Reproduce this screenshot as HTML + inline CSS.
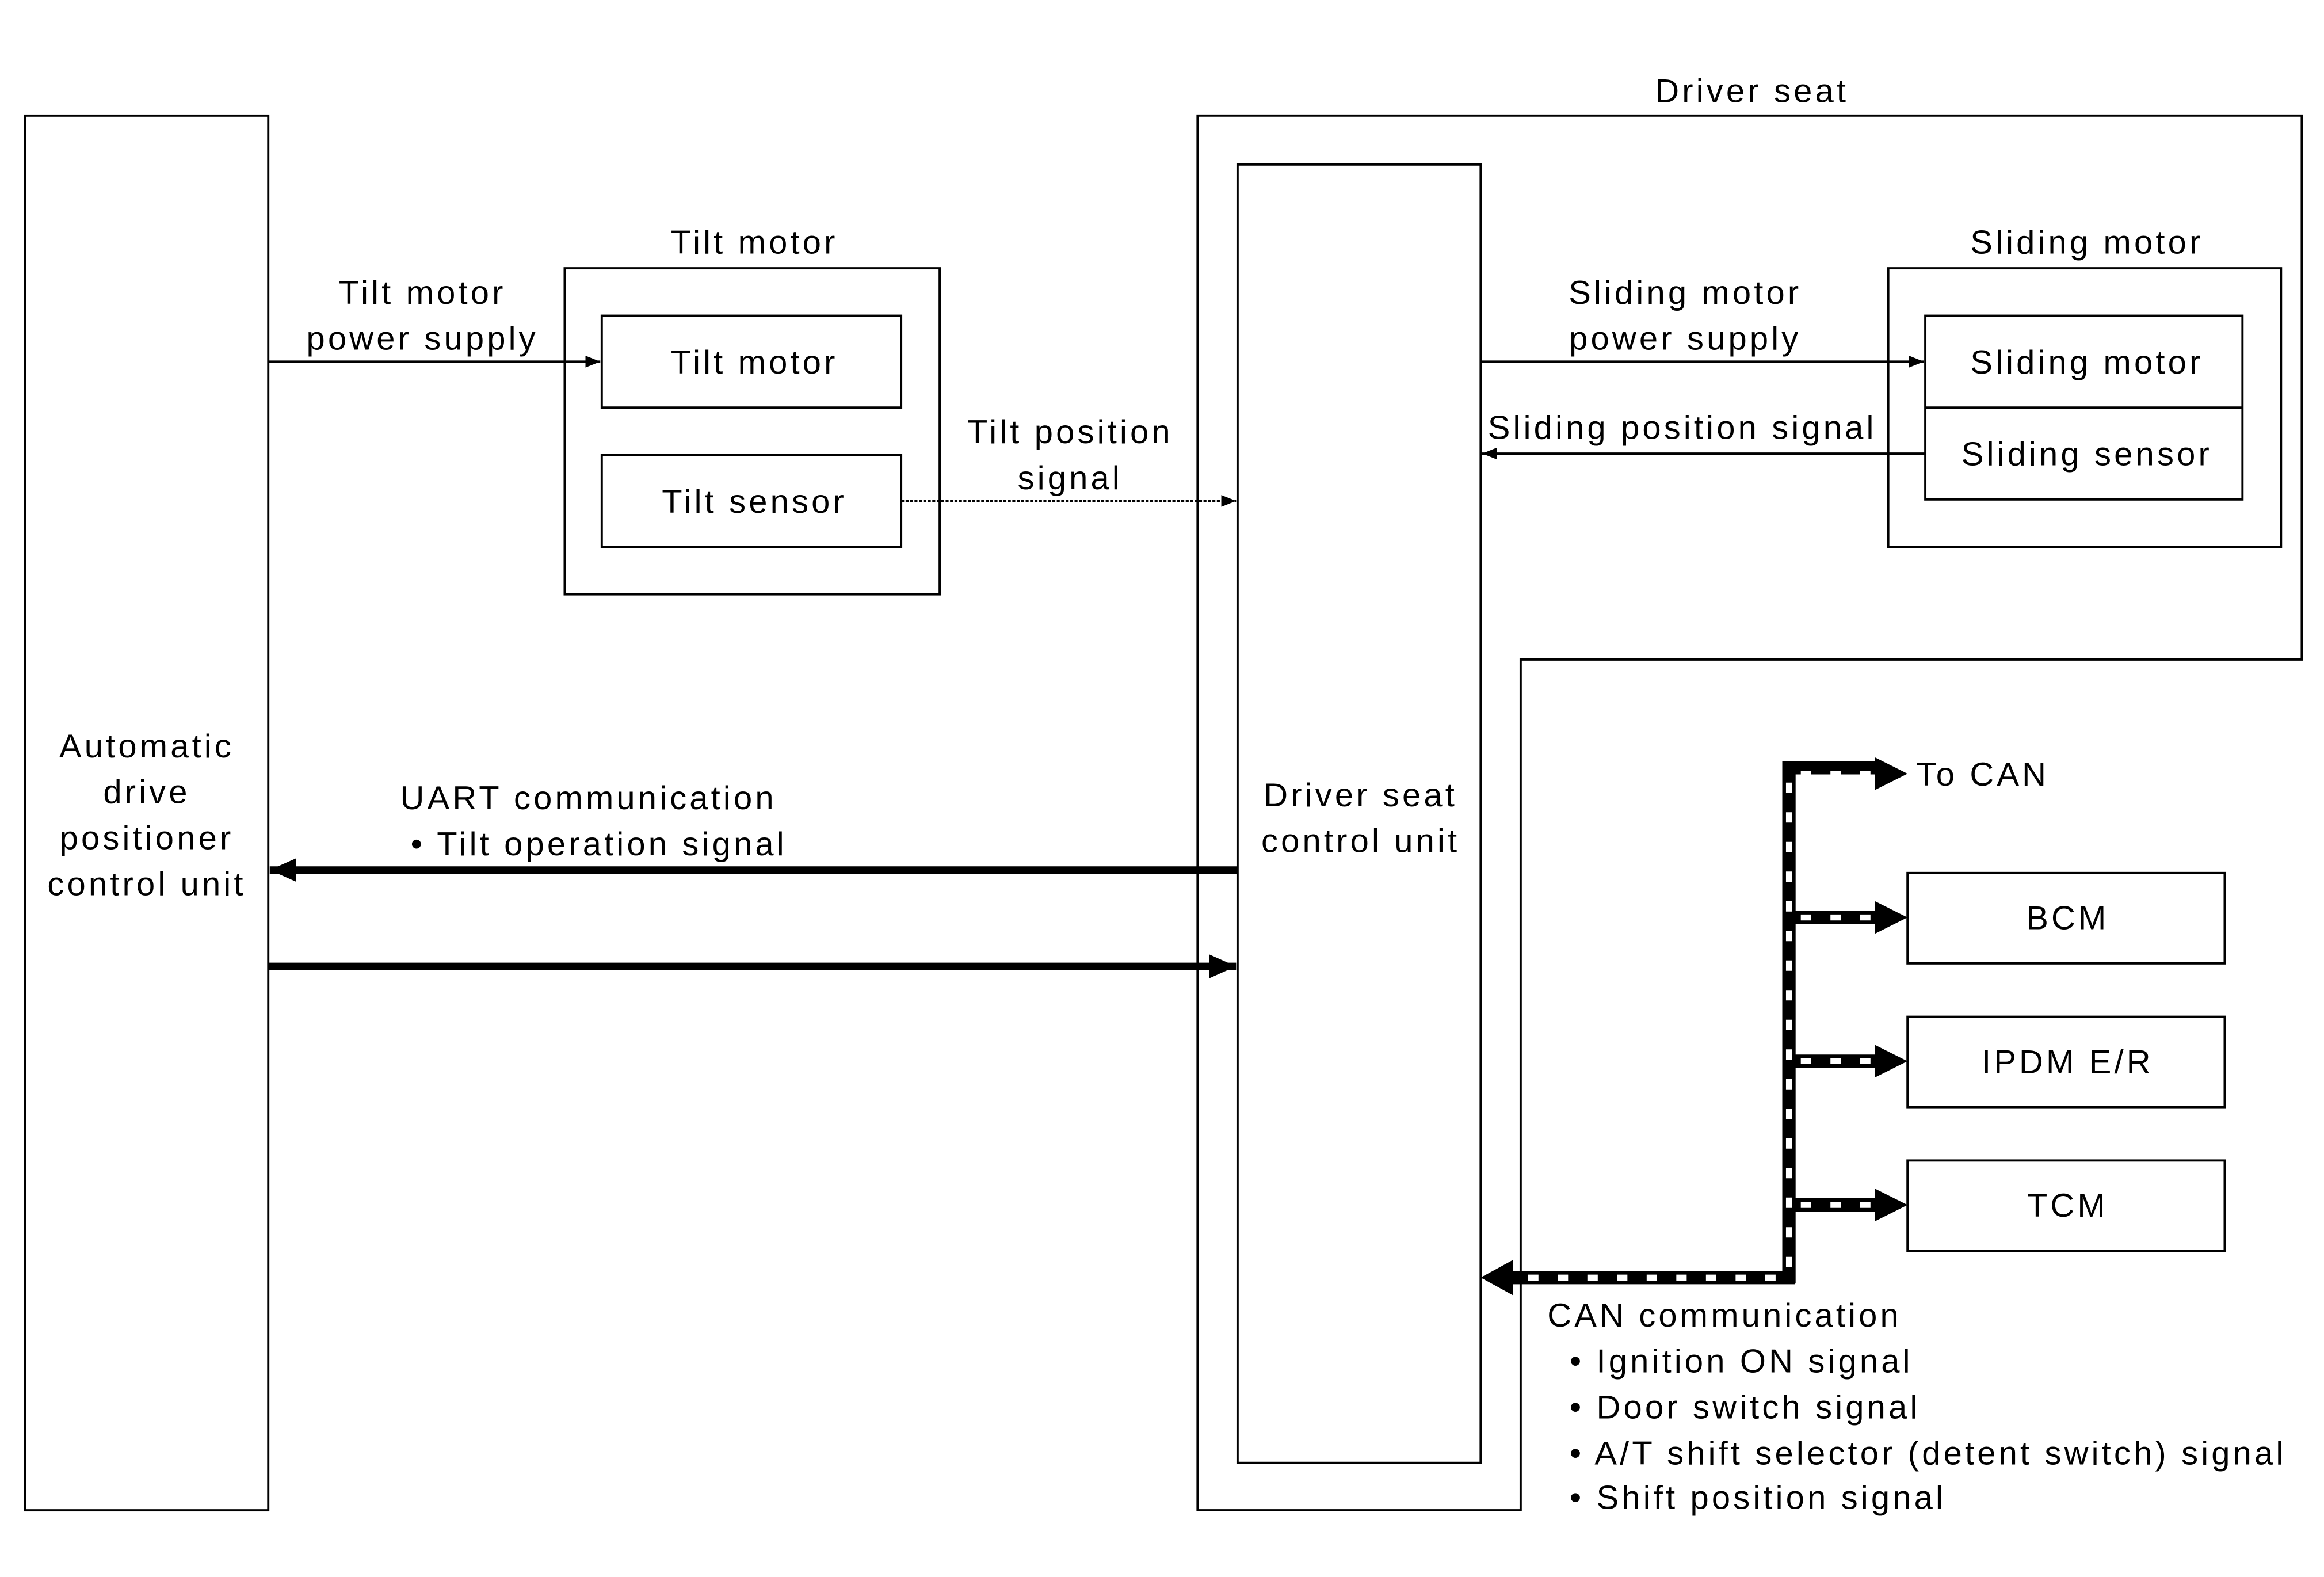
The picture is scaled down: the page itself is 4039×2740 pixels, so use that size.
<!DOCTYPE html>
<html><head><meta charset="utf-8"><style>
html,body{margin:0;padding:0;background:#fff;}
svg{display:block;}
text{font-family:"Liberation Sans",Arial,sans-serif;font-size:22.5px;letter-spacing:2px;fill:#000;}
</style></head><body>
<svg width="4039" height="2740" viewBox="0 0 1568 1064" preserveAspectRatio="none" xmlns="http://www.w3.org/2000/svg">
<defs>
<marker id="a" markerWidth="10" markerHeight="8" refX="10" refY="4" orient="auto" markerUnits="userSpaceOnUse"><path d="M0,0 L10,4 L0,8z" fill="#000"/></marker>
<marker id="b" markerWidth="18" markerHeight="16" refX="18" refY="8" orient="auto" markerUnits="userSpaceOnUse"><path d="M0,0 L18,8 L0,16z" fill="#000"/></marker>
</defs>
<g fill="none" stroke="#000" stroke-width="1.5">
<rect x="17" y="78" width="164" height="941"/>
<path d="M808,78 H1553 V445 H1026 V1019 H808 Z"/>
<rect x="835" y="111" width="164" height="876"/>
<rect x="381" y="181" width="253" height="220"/>
<rect x="406" y="213" width="202" height="62"/>
<rect x="406" y="307" width="202" height="62"/>
<rect x="1274" y="181" width="265" height="188"/>
<rect x="1299" y="213" width="214" height="124"/>
<line x1="1299" y1="275" x2="1513" y2="275"/>
<rect x="1287" y="589" width="214" height="61"/>
<rect x="1287" y="686" width="214" height="61"/>
<rect x="1287" y="783" width="214" height="61"/>
<line x1="181" y1="244" x2="405" y2="244" marker-end="url(#a)"/>
<line x1="608" y1="338" x2="834" y2="338" stroke-dasharray="2 1" marker-end="url(#a)"/>
<line x1="999" y1="244" x2="1298" y2="244" marker-end="url(#a)"/>
<line x1="1299" y1="306" x2="1000" y2="306" marker-end="url(#a)"/>
<line x1="835" y1="587" x2="182" y2="587" stroke-width="5" marker-end="url(#b)"/>
<line x1="181" y1="652" x2="834" y2="652" stroke-width="5" marker-end="url(#b)"/>
</g>
<g fill="none">
<path d="M1207,866 V518 H1270" stroke="#000" stroke-width="9"/>
<path d="M1211,862 H1016" stroke="#000" stroke-width="9"/>
<path d="M1207,619 H1270 M1207,716 H1270 M1207,813 H1270" stroke="#000" stroke-width="9"/>
<path d="M1207,855 V528 M1215,522 H1270 M1198,862 H1016 M1215,619 H1270 M1215,716 H1270 M1215,813 H1270" stroke="#fff" stroke-width="4" stroke-dasharray="7 13"/>
</g>
<g fill="#000">
<path d="M1265,511 L1287,522 L1265,533z"/>
<path d="M1265,608 L1287,619 L1265,630z"/>
<path d="M1265,705 L1287,716 L1265,727z"/>
<path d="M1265,802 L1287,813 L1265,824z"/>
<path d="M1021,850 L999,862 L1021,874z"/>
</g>
<g text-anchor="middle">
<text x="1182" y="69">Driver seat</text>
<text x="509" y="171">Tilt motor</text>
<text x="1408" y="171">Sliding motor</text>
<text x="285" y="205">Tilt motor</text>
<text x="285" y="236">power supply</text>
<text x="509" y="252">Tilt motor</text>
<text x="509" y="346">Tilt sensor</text>
<text x="722" y="299">Tilt position</text>
<text x="722" y="330">signal</text>
<text x="1137" y="205">Sliding motor</text>
<text x="1137" y="236">power supply</text>
<text x="1135" y="296">Sliding position signal</text>
<text x="1408" y="252">Sliding motor</text>
<text x="1408" y="314">Sliding sensor</text>
<text x="99" y="511">Automatic</text>
<text x="99" y="542">drive</text>
<text x="99" y="573">positioner</text>
<text x="99" y="604">control unit</text>
<text x="918" y="544">Driver seat</text>
<text x="918" y="575">control unit</text>
<text x="397" y="546">UART communication</text>
<text x="404" y="577">• Tilt operation signal</text>
<text x="1395" y="627">BCM</text>
<text x="1395" y="724">IPDM E/R</text>
<text x="1395" y="821">TCM</text>
</g>
<text x="1293" y="530">To CAN</text>
<text x="1044" y="895">CAN communication</text>
<text x="1059" y="926">• Ignition ON signal</text>
<text x="1059" y="957">• Door switch signal</text>
<text x="1059" y="988">• A/T shift selector (detent switch) signal</text>
<text x="1059" y="1018">• Shift position signal</text>
</svg>
</body></html>
